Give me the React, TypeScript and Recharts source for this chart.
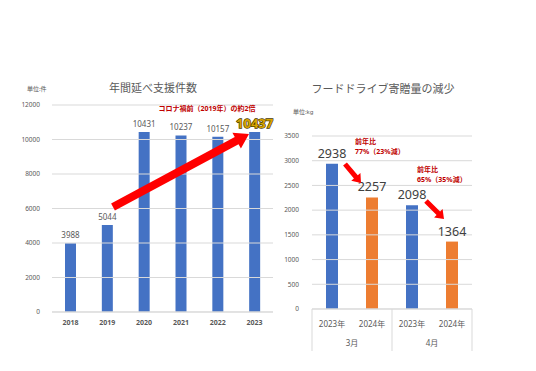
import React from 'react';
import { BarChart, Bar, XAxis, YAxis, ReferenceLine, LabelList, Cell } from 'recharts';

// Left: yearly support counts
const years = ['2018', '2019', '2020', '2021', '2022', '2023'];
const supportCounts = [3988, 5044, 10431, 10237, 10157, 10437];
const supportTicks = [0, 2000, 4000, 6000, 8000, 10000, 12000];

// Right: food drive donations
const fdYears = ['2023年', '2024年', '2023年', '2024年'];
const fdMonths = ['3月', '3月', '4月', '4月'];
const fdAmounts = [2938, 2257, 2098, 1364];
const fdColors = ['#4472C4', '#ED7D31', '#4472C4', '#ED7D31'];
const fdTicks = [0, 500, 1000, 1500, 2000, 2500, 3000, 3500];

const supportData = years.map((y, i) => ({ year: y, value: supportCounts[i] }));
const fdData = fdYears.map((y, i) => ({ key: `${fdMonths[i]}-${y}`, year: y, month: fdMonths[i], value: fdAmounts[i] }));

const GRID = '#d9d9d9';
const AXIS_TXT = '#595959';
const RED = '#C00000';

// block arrow polygon between two points
function Arrow({ x1, y1, x2, y2, shaft, head, headLen }: any) {
  const dx = x2 - x1, dy = y2 - y1;
  const len = Math.hypot(dx, dy);
  const ux = dx / len, uy = dy / len;
  const nx = -uy, ny = ux;
  const bx = x2 - ux * headLen, by = y2 - uy * headLen;
  const pts = [
    [x1 + nx * shaft / 2, y1 + ny * shaft / 2],
    [bx + nx * shaft / 2, by + ny * shaft / 2],
    [bx + nx * head / 2, by + ny * head / 2],
    [x2, y2],
    [bx - nx * head / 2, by - ny * head / 2],
    [bx - nx * shaft / 2, by - ny * shaft / 2],
    [x1 - nx * shaft / 2, y1 - ny * shaft / 2],
  ];
  return <polygon points={pts.map((p) => p.join(',')).join(' ')} fill="#FF0000" />;
}

// last bar gets the big gold label
const SupportLabel = (props: any) => {
  const { x, y, width, value, index } = props;
  const cx = x + width / 2;
  if (index === supportCounts.length - 1) {
    return (
      <text x={cx} y={y - 4} textAnchor="middle" fontSize={13} fontWeight="bold" fill="#D9A400"
        stroke="#4a3a00" strokeWidth={1.3} paintOrder="stroke">
        {value}
      </text>
    );
  }
  return (
    <text x={cx} y={y - 5} textAnchor="middle" fontSize={8} fill={AXIS_TXT}>
      {value}
    </text>
  );
};

const BAND = 40; // category width of the right plot (160px / 4)

const MonthTick = (props: any) => {
  const { x, y, payload } = props;
  const idx = payload.index;
  const half = BAND / 2;
  const top = 309;
  const bottom = 351;
  const out: any[] = [];
  if (idx % 2 === 0) {
    out.push(<line key="l" x1={x - half} x2={x - half} y1={top} y2={bottom} stroke={GRID} />);
    out.push(
      <text key="t" x={x + half} y={y + 5} textAnchor="middle" fontSize={8} fill={AXIS_TXT}>
        {fdMonths[idx]}
      </text>
    );
  }
  if (idx === fdMonths.length - 1) {
    out.push(<line key="r" x1={x + half} x2={x + half} y1={top} y2={bottom} stroke={GRID} />);
  }
  return <g>{out}</g>;
};

export default function App() {
  return (
    <div style={{ position: 'absolute', left: 0, top: 0, width: 536, height: 371, background: '#fff',
      fontFamily: "'Noto Sans', 'Noto Sans CJK JP', sans-serif" }}>
      <div style={{ position: 'absolute', left: 0, top: 0 }}>
        <BarChart width={280} height={371} data={supportData} margin={{ top: 105, right: 7, bottom: 0, left: 0 }}>
          {supportTicks.map((t) => (
            <ReferenceLine key={t} y={t} stroke={GRID} />
          ))}
          <XAxis dataKey="year" height={59} tickLine={false} axisLine={{ stroke: GRID }}
            tick={{ fontSize: 7, fontWeight: 'bold', fill: AXIS_TXT }} tickMargin={2} />
          <YAxis width={52} domain={[0, 12000]} ticks={supportTicks} tickLine={false} axisLine={false}
            tick={{ fontSize: 6.5, fill: AXIS_TXT }} tickMargin={6} />
          <Bar dataKey="value" fill="#4472C4" barSize={11} isAnimationActive={false}>
            <LabelList dataKey="value" content={SupportLabel} />
          </Bar>
        </BarChart>
      </div>
      <div style={{ position: 'absolute', left: 260, top: 0 }}>
        <BarChart width={276} height={371} data={fdData} margin={{ top: 136, right: 64, bottom: 0, left: 0 }}>
          {fdTicks.map((t) => (
            <ReferenceLine key={t} y={t} stroke={GRID} />
          ))}
          <XAxis dataKey="key" height={24} tickLine={false} axisLine={{ stroke: GRID }} interval={0}
            tickFormatter={(_v: any, i: number) => fdYears[i]}
            tick={{ fontSize: 8, fill: AXIS_TXT }} tickMargin={6} />
          <XAxis xAxisId="month" dataKey="key" height={38} tickLine={false} axisLine={false} interval={0}
            tick={<MonthTick />} />
          <YAxis width={52} domain={[0, 3500]} ticks={fdTicks} tickLine={false} axisLine={false}
            tick={{ fontSize: 6.5, fill: AXIS_TXT }} tickMargin={7} />
          <Bar dataKey="value" barSize={12} isAnimationActive={false}>
            {fdData.map((d, i) => (
              <Cell key={d.key} fill={fdColors[i]} />
            ))}
            <LabelList dataKey="value" position="top" offset={6} fontSize={12.5} fill="#404040" />
          </Bar>
        </BarChart>
      </div>
      <svg width={536} height={371} style={{ position: 'absolute', left: 0, top: 0, pointerEvents: 'none' }}>
        <text x={153} y={92} textAnchor="middle" fontSize={11} fill={AXIS_TXT}>年間延べ支援件数</text>
        <text x={27} y={91} fontSize={6} fill={AXIS_TXT}>単位:件</text>
        <text x={207} y={111} textAnchor="middle" fontSize={7} fontWeight="bold" fill={RED}>
          コロナ禍前（2019年）の約2倍
        </text>
        <Arrow x1={113} y1={207} x2={249} y2={134} shaft={8} head={18} headLen={14} />

        <text x={383} y={93} textAnchor="middle" fontSize={11} fill={AXIS_TXT}>フードドライブ寄贈量の減少</text>
        <text x={293} y={114} fontSize={6} fill={AXIS_TXT}>単位:kg</text>
        <text x={355} y={144} fontSize={7} fontWeight="bold" fill={RED}>前年比</text>
        <text x={355} y={154} fontSize={7} fontWeight="bold" fill={RED}>77%（23%減）</text>
        <text x={417} y={172} fontSize={7} fontWeight="bold" fill={RED}>前年比</text>
        <text x={417} y={182} fontSize={7} fontWeight="bold" fill={RED}>65%（35%減）</text>
        <Arrow x1={345} y1={164} x2={361} y2={183} shaft={5} head={12} headLen={8} />
        <Arrow x1={426} y1={201} x2={444} y2={219} shaft={5} head={12} headLen={8} />
      </svg>
    </div>
  );
}
